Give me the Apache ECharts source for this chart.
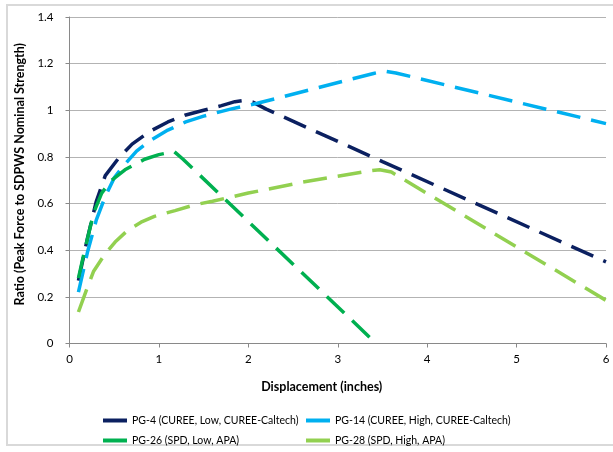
<!DOCTYPE html>
<html>
<head>
<meta charset="utf-8">
<script src="https://cdn.jsdelivr.net/npm/echarts@6/dist/echarts.min.js"></script>
<style>
  html, body { margin: 0; padding: 0; background: #fff; }
  #chart { width: 613px; height: 452px; }
</style>
</head>
<body>
<div id="chart"></div>
<script>
// [displacement, ratio] pairs
const pg4 = [[0.1, 0.27], [0.2, 0.45], [0.3, 0.61], [0.4, 0.72], [0.55, 0.795], [0.7, 0.855],
  [0.9, 0.91], [1.1, 0.95], [1.3, 0.98], [1.5, 1.0], [1.7, 1.02], [1.85, 1.037], [1.95, 1.042],
  [2.05, 1.035], [2.2, 1.005], [3.5, 0.78], [6, 0.35]];
const pg14 = [[0.1, 0.22], [0.2, 0.39], [0.3, 0.53], [0.4, 0.63], [0.5, 0.71], [0.6, 0.76],
  [0.75, 0.825], [0.9, 0.87], [1.1, 0.915], [1.3, 0.95], [1.5, 0.975], [1.8, 1.005], [2.1, 1.03],
  [3.4, 1.158], [3.52, 1.168], [3.65, 1.16], [6, 0.943]];
const pg26 = [[0.1, 0.28], [0.17, 0.4], [0.27, 0.56], [0.36, 0.645], [0.47, 0.7], [0.62, 0.745],
  [0.84, 0.79], [1.0, 0.81], [1.17, 0.823], [1.27, 0.79], [3.43, 0]];
const pg28 = [[0.1, 0.135], [0.19, 0.23], [0.27, 0.31], [0.4, 0.385], [0.51, 0.435], [0.65, 0.485],
  [0.8, 0.52], [0.95, 0.545], [1.18, 0.57], [1.4, 0.595], [1.6, 0.61], [2.0, 0.645], [2.58, 0.69],
  [3.35, 0.74], [3.47, 0.745], [3.6, 0.735], [6, 0.185]];

const names = ['PG-4 (CUREE, Low, CUREE-Caltech)', 'PG-14 (CUREE, High, CUREE-Caltech)',
  'PG-26 (SPD, Low, APA)', 'PG-28 (SPD, High, APA)'];
const colors = ['#0b2060', '#00b0f0', '#00b050', '#92d050'];

const font = "Lato, 'Noto Sans', sans-serif";
const chart = echarts.init(document.getElementById('chart'), null, { renderer: 'canvas' });

function line(name, data, color) {
  return {
    name: name,
    type: 'line',
    data: data,
    symbol: 'none',
    color: color,
    lineStyle: { width: 3.5, type: [24, 11], color: color },
  };
}

let option = {
  animation: false,
  textStyle: { fontFamily: font },
  graphic: [{
    type: 'rect',
    shape: { x: 7, y: 5, width: 612, height: 440 },
    style: { fill: 'none', stroke: '#d9d9d9', lineWidth: 2 },
    silent: true,
  }],
  grid: { left: 69.5, right: 7, top: 17, bottom: 108.5 },
  xAxis: {
    type: 'value',
    min: 0, max: 6, interval: 1,
    name: 'Displacement (inches)',
    nameLocation: 'middle',
    nameGap: 37,
    nameTextStyle: { fontSize: 12.5, fontWeight: 'bold', color: '#000', padding: [0, 32, 0, 0] },
    axisLine: { lineStyle: { color: '#898989' } },
    axisTick: { show: true, length: 4, lineStyle: { color: '#898989' } },
    axisLabel: { fontSize: 11.5, color: '#000', margin: 10 },
    splitLine: { show: false },
  },
  yAxis: {
    type: 'value',
    min: 0, max: 1.4, interval: 0.2,
    name: 'Ratio (Peak Force to SDPWS Nominal Strength)',
    nameLocation: 'middle',
    nameGap: 36,
    nameTextStyle: { fontSize: 12.5, fontWeight: 'bold', color: '#000', padding: [0, 0, 0, 12] },
    axisLine: { show: true, lineStyle: { color: '#898989' } },
    axisTick: { show: true, length: 4, lineStyle: { color: '#898989' } },
    axisLabel: { fontSize: 11.5, color: '#000', margin: 16 },
    splitLine: { lineStyle: { color: '#b3b3b3' } },
  },
  legend: [
    {
      data: [names[0], names[2]],
      orient: 'vertical',
      left: 98, top: 410,
      itemGap: 9,
      icon: 'rect', itemWidth: 24, itemHeight: 4,
      textStyle: { fontSize: 10.5, color: '#000' },
    },
    {
      data: [names[1], names[3]],
      orient: 'vertical',
      left: 301, top: 410,
      itemGap: 9,
      icon: 'rect', itemWidth: 24, itemHeight: 4,
      textStyle: { fontSize: 10.5, color: '#000' },
    },
  ],
  series: [
    line(names[0], pg4, colors[0]),
    line(names[1], pg14, colors[1]),
    line(names[2], pg26, colors[2]),
    line(names[3], pg28, colors[3]),
  ],
};
chart.setOption(option);
</script>
</body>
</html>
